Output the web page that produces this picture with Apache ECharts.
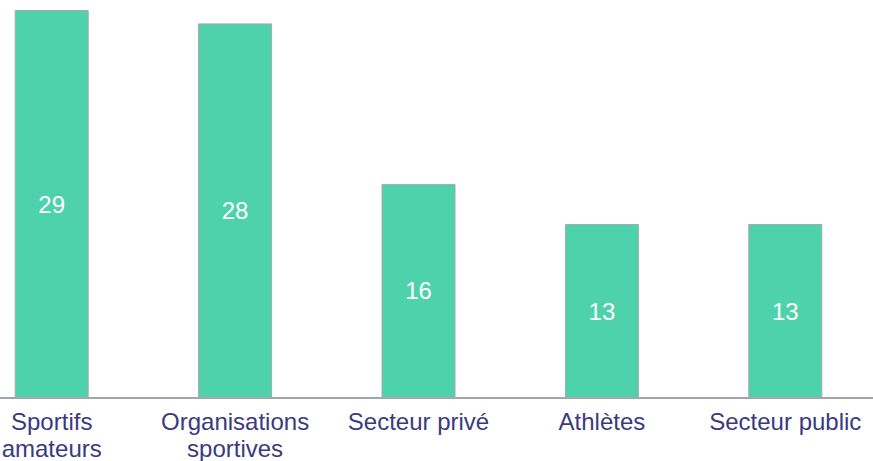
<!DOCTYPE html>
<html>
<head>
<meta charset="utf-8">
<script src="https://cdn.jsdelivr.net/npm/echarts@6/dist/echarts.min.js"></script>
<style>
  html, body { margin: 0; padding: 0; background: #fff; overflow: hidden; }
  /* the category band runs past both edges, so the chart box is wider than the window */
  #chart { width: 917px; height: 461px; margin-left: -40px; }
</style>
</head>
<body>
<div id="chart"></div>
<script>
var categories = ["Sportifs\namateurs", "Organisations\nsportives", "Secteur privé", "Athlètes", "Secteur public"];
var values = [29, 28, 16, 13, 13];

var myChart = echarts.init(document.getElementById("chart"), null, { renderer: "svg" });
var option = {
    animation: false,
    grid: { left: 0, right: 0, top: 10, bottom: 63, containLabel: false, outerBoundsMode: "none" },
    xAxis: {
        type: "category",
        data: categories,
        axisLine: { lineStyle: { color: "#a3a3b3", width: 2 } },
        axisTick: { show: false },
        axisLabel: {
            interval: 0,
            margin: 10,
            fontFamily: "Liberation Sans",
            fontSize: 24,
            lineHeight: 27,
            color: "#3a3a7e"
        }
    },
    yAxis: {
        type: "value",
        min: 0,
        max: 29,
        show: false,
        splitLine: { show: false }
    },
    series: [{
        type: "bar",
        data: values,
        barWidth: 74,
        itemStyle: { color: "#4dd2ac", borderColor: "#a8a8a8", borderWidth: 1 },
        label: {
            show: true,
            position: "inside",
            fontFamily: "Liberation Sans",
            fontSize: 24,
            color: "#ffffff"
        }
    }]
};
myChart.setOption(option);
</script>
</body>
</html>
